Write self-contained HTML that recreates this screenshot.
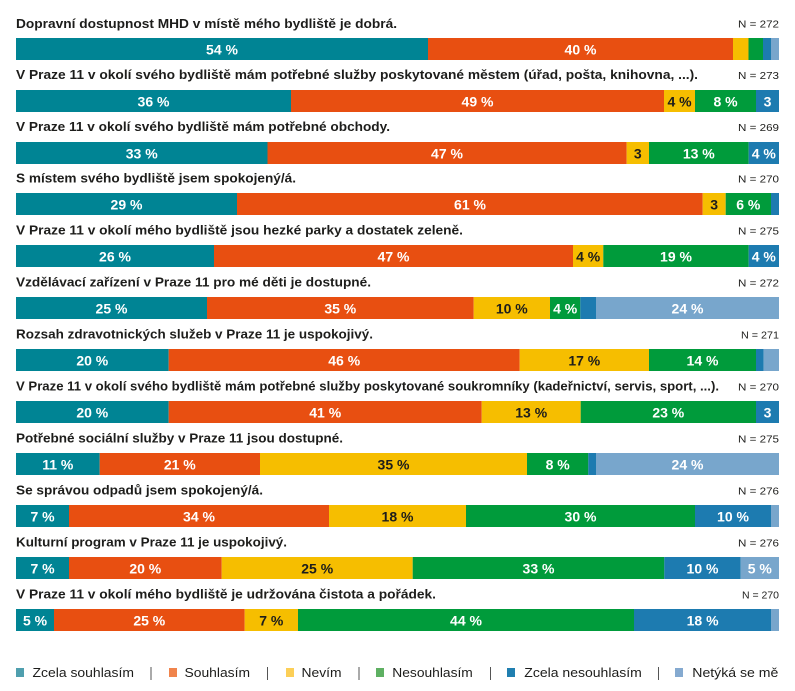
<!DOCTYPE html>
<html><head><meta charset="utf-8">
<style>
html,body{margin:0;padding:0;background:#fff;}
svg{display:block;}
.t{font-family:"Liberation Sans",sans-serif;font-weight:bold;font-size:12.5px;fill:#1d1d1b;}
.n{font-family:"Liberation Sans",sans-serif;font-size:10.5px;fill:#1d1d1b;text-anchor:end;}
.v{font-family:"Liberation Sans",sans-serif;font-weight:bold;font-size:14px;fill:#fff;text-anchor:middle;}
.d{fill:#1d1d1b;}
.l{font-family:"Liberation Sans",sans-serif;font-size:12.5px;fill:#1d1d1b;}
</style></head>
<body>
<svg width="795" height="691" viewBox="0 0 795 691" xmlns="http://www.w3.org/2000/svg">
<!-- Row 1 -->
<text class="t" x="16" y="28" textLength="381" lengthAdjust="spacingAndGlyphs">Dopravní dostupnost MHD v místě mého bydliště je dobrá.</text>
<text class="n" x="779" y="27.5" textLength="41" lengthAdjust="spacingAndGlyphs">N = 272</text>
<rect x="16" y="38" width="412" height="22" fill="#008494"/>
<rect x="428" y="38" width="305" height="22" fill="#e84f11"/>
<rect x="733" y="38" width="15.5" height="22" fill="#f6be00"/>
<rect x="748.5" y="38" width="14.5" height="22" fill="#009b3b"/>
<rect x="763" y="38" width="8" height="22" fill="#1d7bb0"/>
<rect x="771" y="38" width="8" height="22" fill="#78a6cc"/>
<text class="v" x="222" y="54.5">54 %</text>
<text class="v" x="580.5" y="54.5">40 %</text>

<!-- Row 2 -->
<text class="t" x="16" y="79" textLength="682" lengthAdjust="spacingAndGlyphs">V Praze 11 v okolí svého bydliště mám potřebné služby poskytované městem (úřad, pošta, knihovna, ...).</text>
<text class="n" x="779" y="79" textLength="41" lengthAdjust="spacingAndGlyphs">N = 273</text>
<rect x="16" y="90" width="275" height="22" fill="#008494"/>
<rect x="291" y="90" width="373" height="22" fill="#e84f11"/>
<rect x="664" y="90" width="31" height="22" fill="#f6be00"/>
<rect x="695" y="90" width="61" height="22" fill="#009b3b"/>
<rect x="756" y="90" width="23" height="22" fill="#1d7bb0"/>
<text class="v" x="153.5" y="106.5">36 %</text>
<text class="v" x="477.5" y="106.5">49 %</text>
<text class="v d" x="679.5" y="106.5">4 %</text>
<text class="v" x="725.5" y="106.5">8 %</text>
<text class="v" x="767.5" y="106.5">3</text>

<!-- Row 3 -->
<text class="t" x="16" y="131" textLength="374" lengthAdjust="spacingAndGlyphs">V Praze 11 v okolí svého bydliště mám potřebné obchody.</text>
<text class="n" x="779" y="131" textLength="41" lengthAdjust="spacingAndGlyphs">N = 269</text>
<rect x="16" y="142" width="251.5" height="22" fill="#008494"/>
<rect x="267.5" y="142" width="359.2" height="22" fill="#e84f11"/>
<rect x="626.7" y="142" width="22.3" height="22" fill="#f6be00"/>
<rect x="649" y="142" width="99.7" height="22" fill="#009b3b"/>
<rect x="748.7" y="142" width="30.3" height="22" fill="#1d7bb0"/>
<text class="v" x="141.7" y="158.5">33 %</text>
<text class="v" x="447" y="158.5">47 %</text>
<text class="v d" x="637.8" y="158.5">3</text>
<text class="v" x="698.8" y="158.5">13 %</text>
<text class="v" x="763.8" y="158.5">4 %</text>

<!-- Row 4 -->
<text class="t" x="16" y="182.5" textLength="280" lengthAdjust="spacingAndGlyphs">S místem svého bydliště jsem spokojený/á.</text>
<text class="n" x="779" y="182.5" textLength="41" lengthAdjust="spacingAndGlyphs">N = 270</text>
<rect x="16" y="193" width="221" height="22" fill="#008494"/>
<rect x="237" y="193" width="465.7" height="22" fill="#e84f11"/>
<rect x="702.7" y="193" width="23" height="22" fill="#f6be00"/>
<rect x="725.7" y="193" width="45.3" height="22" fill="#009b3b"/>
<rect x="771" y="193" width="8" height="22" fill="#1d7bb0"/>
<text class="v" x="126.5" y="209.5">29 %</text>
<text class="v" x="470" y="209.5">61 %</text>
<text class="v d" x="714.2" y="209.5">3</text>
<text class="v" x="748.3" y="209.5">6 %</text>

<!-- Row 5 -->
<text class="t" x="16" y="234.5" textLength="447" lengthAdjust="spacingAndGlyphs">V Praze 11 v okolí mého bydliště jsou hezké parky a dostatek zeleně.</text>
<text class="n" x="779" y="234.5" textLength="41" lengthAdjust="spacingAndGlyphs">N = 275</text>
<rect x="16" y="245" width="198" height="22" fill="#008494"/>
<rect x="214" y="245" width="359" height="22" fill="#e84f11"/>
<rect x="573" y="245" width="30.3" height="22" fill="#f6be00"/>
<rect x="603.3" y="245" width="145.4" height="22" fill="#009b3b"/>
<rect x="748.7" y="245" width="30.3" height="22" fill="#1d7bb0"/>
<text class="v" x="115" y="261.5">26 %</text>
<text class="v" x="393.5" y="261.5">47 %</text>
<text class="v d" x="588.2" y="261.5">4 %</text>
<text class="v" x="676" y="261.5">19 %</text>
<text class="v" x="763.8" y="261.5">4 %</text>

<!-- Row 6 -->
<text class="t" x="16" y="286.5" textLength="355" lengthAdjust="spacingAndGlyphs">Vzdělávací zařízení v Praze 11 pro mé děti je dostupné.</text>
<text class="n" x="779" y="286.5" textLength="41" lengthAdjust="spacingAndGlyphs">N = 272</text>
<rect x="16" y="297" width="191" height="22" fill="#008494"/>
<rect x="207" y="297" width="266.7" height="22" fill="#e84f11"/>
<rect x="473.7" y="297" width="76.3" height="22" fill="#f6be00"/>
<rect x="550" y="297" width="30.3" height="22" fill="#009b3b"/>
<rect x="580.3" y="297" width="15.7" height="22" fill="#1d7bb0"/>
<rect x="596" y="297" width="183" height="22" fill="#78a6cc"/>
<text class="v" x="111.5" y="313.5">25 %</text>
<text class="v" x="340.3" y="313.5">35 %</text>
<text class="v d" x="511.8" y="313.5">10 %</text>
<text class="v" x="565.2" y="313.5">4 %</text>
<text class="v" x="687.5" y="313.5">24 %</text>

<!-- Row 7 -->
<text class="t" x="16" y="338.5" textLength="357" lengthAdjust="spacingAndGlyphs">Rozsah zdravotnických služeb v Praze 11 je uspokojivý.</text>
<text class="n" x="779" y="338.5" textLength="38" lengthAdjust="spacingAndGlyphs">N = 271</text>
<rect x="16" y="349" width="152.7" height="22" fill="#008494"/>
<rect x="168.7" y="349" width="351" height="22" fill="#e84f11"/>
<rect x="519.7" y="349" width="129.3" height="22" fill="#f6be00"/>
<rect x="649" y="349" width="107" height="22" fill="#009b3b"/>
<rect x="756" y="349" width="7.7" height="22" fill="#1d7bb0"/>
<rect x="763.7" y="349" width="15.3" height="22" fill="#78a6cc"/>
<text class="v" x="92.3" y="365.5">20 %</text>
<text class="v" x="344.2" y="365.5">46 %</text>
<text class="v d" x="584.3" y="365.5">17 %</text>
<text class="v" x="702.5" y="365.5">14 %</text>

<!-- Row 8 -->
<text class="t" x="16" y="390.5" textLength="703" lengthAdjust="spacingAndGlyphs">V Praze 11 v okolí svého bydliště mám potřebné služby poskytované soukromníky (kadeřnictví, servis, sport, ...).</text>
<text class="n" x="779" y="390.5" textLength="41" lengthAdjust="spacingAndGlyphs">N = 270</text>
<rect x="16" y="401" width="152.7" height="22" fill="#008494"/>
<rect x="168.7" y="401" width="313" height="22" fill="#e84f11"/>
<rect x="481.7" y="401" width="99" height="22" fill="#f6be00"/>
<rect x="580.7" y="401" width="175.3" height="22" fill="#009b3b"/>
<rect x="756" y="401" width="23" height="22" fill="#1d7bb0"/>
<text class="v" x="92.3" y="417.5">20 %</text>
<text class="v" x="325.2" y="417.5">41 %</text>
<text class="v d" x="531.2" y="417.5">13 %</text>
<text class="v" x="668.3" y="417.5">23 %</text>
<text class="v" x="767.5" y="417.5">3</text>

<!-- Row 9 -->
<text class="t" x="16" y="442.5" textLength="327" lengthAdjust="spacingAndGlyphs">Potřebné sociální služby v Praze 11 jsou dostupné.</text>
<text class="n" x="779" y="442.5" textLength="41" lengthAdjust="spacingAndGlyphs">N = 275</text>
<rect x="16" y="453" width="83.7" height="22" fill="#008494"/>
<rect x="99.7" y="453" width="160.3" height="22" fill="#e84f11"/>
<rect x="260" y="453" width="267" height="22" fill="#f6be00"/>
<rect x="527" y="453" width="61.3" height="22" fill="#009b3b"/>
<rect x="588.3" y="453" width="7.7" height="22" fill="#1d7bb0"/>
<rect x="596" y="453" width="183" height="22" fill="#78a6cc"/>
<text class="v" x="57.8" y="469.5">11 %</text>
<text class="v" x="179.8" y="469.5">21 %</text>
<text class="v d" x="393.5" y="469.5">35 %</text>
<text class="v" x="557.7" y="469.5">8 %</text>
<text class="v" x="687.5" y="469.5">24 %</text>

<!-- Row 10 -->
<text class="t" x="16" y="494.5" textLength="247" lengthAdjust="spacingAndGlyphs">Se správou odpadů jsem spokojený/á.</text>
<text class="n" x="779" y="494.5" textLength="41" lengthAdjust="spacingAndGlyphs">N = 276</text>
<rect x="16" y="505" width="53" height="22" fill="#008494"/>
<rect x="69" y="505" width="260" height="22" fill="#e84f11"/>
<rect x="329" y="505" width="137" height="22" fill="#f6be00"/>
<rect x="466" y="505" width="229" height="22" fill="#009b3b"/>
<rect x="695" y="505" width="76" height="22" fill="#1d7bb0"/>
<rect x="771" y="505" width="8" height="22" fill="#78a6cc"/>
<text class="v" x="42.5" y="521.5">7 %</text>
<text class="v" x="199" y="521.5">34 %</text>
<text class="v d" x="397.5" y="521.5">18 %</text>
<text class="v" x="580.5" y="521.5">30 %</text>
<text class="v" x="733" y="521.5">10 %</text>

<!-- Row 11 -->
<text class="t" x="16" y="546.5" textLength="271" lengthAdjust="spacingAndGlyphs">Kulturní program v Praze 11 je uspokojivý.</text>
<text class="n" x="779" y="546.5" textLength="41" lengthAdjust="spacingAndGlyphs">N = 276</text>
<rect x="16" y="557" width="53" height="22" fill="#008494"/>
<rect x="69" y="557" width="152.7" height="22" fill="#e84f11"/>
<rect x="221.7" y="557" width="191" height="22" fill="#f6be00"/>
<rect x="412.7" y="557" width="251.6" height="22" fill="#009b3b"/>
<rect x="664.3" y="557" width="76.4" height="22" fill="#1d7bb0"/>
<rect x="740.7" y="557" width="38.3" height="22" fill="#78a6cc"/>
<text class="v" x="42.5" y="573.5">7 %</text>
<text class="v" x="145.3" y="573.5">20 %</text>
<text class="v d" x="317.2" y="573.5">25 %</text>
<text class="v" x="538.5" y="573.5">33 %</text>
<text class="v" x="702.5" y="573.5">10 %</text>
<text class="v" x="759.8" y="573.5">5 %</text>

<!-- Row 12 -->
<text class="t" x="16" y="598.5" textLength="420" lengthAdjust="spacingAndGlyphs">V Praze 11 v okolí mého bydliště je udržována čistota a pořádek.</text>
<text class="n" x="779" y="598.5" textLength="37" lengthAdjust="spacingAndGlyphs">N = 270</text>
<rect x="16" y="609" width="38" height="22" fill="#008494"/>
<rect x="54" y="609" width="190.7" height="22" fill="#e84f11"/>
<rect x="244.7" y="609" width="53.3" height="22" fill="#f6be00"/>
<rect x="298" y="609" width="336" height="22" fill="#009b3b"/>
<rect x="634" y="609" width="137.3" height="22" fill="#1d7bb0"/>
<rect x="771.3" y="609" width="7.7" height="22" fill="#78a6cc"/>
<text class="v" x="35" y="625.5">5 %</text>
<text class="v" x="149.3" y="625.5">25 %</text>
<text class="v d" x="271.3" y="625.5">7 %</text>
<text class="v" x="466" y="625.5">44 %</text>
<text class="v" x="702.6" y="625.5">18 %</text>

<!-- Legend -->
<rect x="16" y="668" width="8" height="9" fill="#4f9fae"/>
<text class="l" x="32.5" y="677" textLength="101.5" lengthAdjust="spacingAndGlyphs">Zcela souhlasím</text>
<line x1="151" y1="667" x2="151" y2="680" stroke="#555" stroke-width="1"/>
<rect x="169" y="668" width="8" height="9" fill="#f0844c"/>
<text class="l" x="184.5" y="677" textLength="65.5" lengthAdjust="spacingAndGlyphs">Souhlasím</text>
<line x1="267.5" y1="667" x2="267.5" y2="680" stroke="#555" stroke-width="1"/>
<rect x="286" y="668" width="8" height="9" fill="#fccf57"/>
<text class="l" x="301.5" y="677" textLength="40" lengthAdjust="spacingAndGlyphs">Nevím</text>
<line x1="359" y1="667" x2="359" y2="680" stroke="#555" stroke-width="1"/>
<rect x="376" y="668" width="8" height="9" fill="#5eb062"/>
<text class="l" x="392.3" y="677" textLength="80.5" lengthAdjust="spacingAndGlyphs">Nesouhlasím</text>
<line x1="490.5" y1="667" x2="490.5" y2="680" stroke="#555" stroke-width="1"/>
<rect x="507" y="668" width="8" height="9" fill="#207fb0"/>
<text class="l" x="524.3" y="677" textLength="117.5" lengthAdjust="spacingAndGlyphs">Zcela nesouhlasím</text>
<line x1="658.5" y1="667" x2="658.5" y2="680" stroke="#555" stroke-width="1"/>
<rect x="675" y="668" width="8" height="9" fill="#85aad0"/>
<text class="l" x="692.3" y="677" textLength="86" lengthAdjust="spacingAndGlyphs">Netýká se mě</text>
</svg>
</body></html>
